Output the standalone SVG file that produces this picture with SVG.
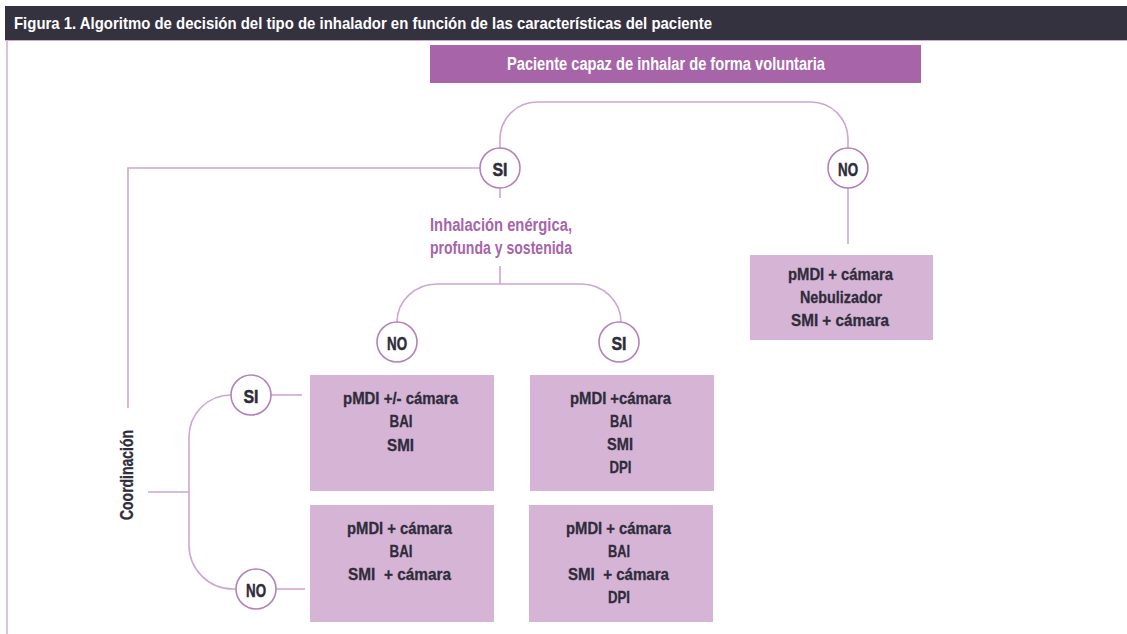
<svg xmlns="http://www.w3.org/2000/svg" width="1127" height="634" viewBox="0 0 1127 634">
<style>
.t{font-family:"Liberation Sans",Arial,sans-serif;font-weight:bold;}
.bx{fill:#d5b4d6;}
.bt{font-size:17px;fill:#2f2c3b;text-anchor:middle;stroke:#2f2c3b;stroke-width:0.3;}
.c{fill:#fff;stroke:#b681ba;stroke-width:1.6;}
.ct{font-size:19px;fill:#2f2c3b;text-anchor:middle;stroke:#2f2c3b;stroke-width:0.5;}
.ln{fill:none;stroke:#cfa5d2;stroke-width:1.6;}
</style>
<rect x="0" y="0" width="1127" height="634" fill="#fff"/>
<g id="frame">
<rect x="5" y="6" width="1122" height="34" fill="#35323f"/>
<line x1="5" y1="40.5" x2="1127" y2="40.5" stroke="#cfa5d2" stroke-width="1.2"/>
<line x1="7" y1="40" x2="7" y2="634" stroke="#d6b2d9" stroke-width="1.6"/>
<text class="t" x="14" y="29" font-size="17" fill="#fff" textLength="698" lengthAdjust="spacingAndGlyphs">Figura 1. Algoritmo de decisión del tipo de inhalador en función de las características del paciente</text>
</g>
<g id="connectors">
<path class="ln" d="M500,148 V139 A37,37 0 0 1 537,102 H811 A37,37 0 0 1 848,139 V148"/>
<path class="ln" d="M480,168 H128 V408"/>
<path class="ln" d="M848,188 V244"/>
<path class="ln" d="M500,188 V198"/>
<path class="ln" d="M500,266 V284"/>
<path class="ln" d="M397,322 A40,38 0 0 1 437,284 H581 A40,38 0 0 1 621,322"/>
<path class="ln" d="M148,492 H189"/>
<path class="ln" d="M231,395 A42,42 0 0 0 189,437 V545 A44,44 0 0 0 233,589 H236"/>
<path class="ln" d="M271,395 H302"/>
<path class="ln" d="M276,589 H305"/>
</g>
<g id="root">
<rect x="430" y="45" width="491" height="38" fill="#a864a8"/>
<text class="t" x="666" y="70" font-size="18" fill="#fff" text-anchor="middle" textLength="318" lengthAdjust="spacingAndGlyphs">Paciente capaz de inhalar de forma voluntaria</text>
</g>
<g id="si-top"><circle class="c" cx="500" cy="168" r="20"/><text class="t ct" x="500" y="176" textLength="15" lengthAdjust="spacingAndGlyphs">SI</text></g>
<g id="no-top"><circle class="c" cx="848" cy="168" r="20"/><text class="t ct" x="848" y="176" textLength="20" lengthAdjust="spacingAndGlyphs">NO</text></g>
<g id="no-box">
<rect class="bx" x="750" y="255" width="183" height="85"/>
<text class="t bt" x="840.5" y="280" textLength="105" lengthAdjust="spacingAndGlyphs">pMDI + cámara</text>
<text class="t bt" x="841" y="303" textLength="82" lengthAdjust="spacingAndGlyphs">Nebulizador</text>
<text class="t bt" x="840" y="326" textLength="98" lengthAdjust="spacingAndGlyphs">SMI + cámara</text>
</g>
<g id="inhalacion">
<text class="t" x="430" y="231" font-size="18" fill="#a864a8" textLength="142" lengthAdjust="spacingAndGlyphs">Inhalación enérgica,</text>
<text class="t" x="430" y="254" font-size="18" fill="#a864a8" textLength="142" lengthAdjust="spacingAndGlyphs">profunda y sostenida</text>
</g>
<g id="no-mid"><circle class="c" cx="397" cy="342" r="20"/><text class="t ct" x="397" y="350" textLength="20" lengthAdjust="spacingAndGlyphs">NO</text></g>
<g id="si-mid"><circle class="c" cx="619" cy="342" r="20"/><text class="t ct" x="619" y="350" textLength="15" lengthAdjust="spacingAndGlyphs">SI</text></g>
<g id="coordinacion">
<text class="t" transform="translate(133,475) rotate(-90)" font-size="18" fill="#2f2c3b" stroke="#2f2c3b" stroke-width="0.3" text-anchor="middle" textLength="90" lengthAdjust="spacingAndGlyphs">Coordinación</text>
</g>
<g id="si-coord"><circle class="c" cx="251" cy="395" r="20"/><text class="t ct" x="251" y="403" textLength="15" lengthAdjust="spacingAndGlyphs">SI</text></g>
<g id="no-coord"><circle class="c" cx="256" cy="589" r="20"/><text class="t ct" x="256" y="597" textLength="20" lengthAdjust="spacingAndGlyphs">NO</text></g>
<g id="box-no-si">
<rect class="bx" x="310" y="375" width="184" height="116"/>
<text class="t bt" x="400.5" y="404" textLength="115" lengthAdjust="spacingAndGlyphs">pMDI +/- cámara</text>
<text class="t bt" x="401" y="427" textLength="23" lengthAdjust="spacingAndGlyphs">BAI</text>
<text class="t bt" x="400.5" y="451" textLength="27" lengthAdjust="spacingAndGlyphs">SMI</text>
</g>
<g id="box-no-no">
<rect class="bx" x="310" y="505" width="184" height="117"/>
<text class="t bt" x="399.5" y="534" textLength="105" lengthAdjust="spacingAndGlyphs">pMDI + cámara</text>
<text class="t bt" x="401" y="557" textLength="23" lengthAdjust="spacingAndGlyphs">BAI</text>
<text class="t bt" x="399.5" y="580" textLength="103" lengthAdjust="spacingAndGlyphs" xml:space="preserve">SMI  + cámara</text>
</g>
<g id="box-si-si">
<rect class="bx" x="530" y="375" width="184" height="116"/>
<text class="t bt" x="620.5" y="404" textLength="101" lengthAdjust="spacingAndGlyphs">pMDI +cámara</text>
<text class="t bt" x="621" y="427" textLength="22" lengthAdjust="spacingAndGlyphs">BAI</text>
<text class="t bt" x="620" y="450" textLength="26" lengthAdjust="spacingAndGlyphs">SMI</text>
<text class="t bt" x="620.5" y="473" textLength="22" lengthAdjust="spacingAndGlyphs">DPI</text>
</g>
<g id="box-si-no">
<rect class="bx" x="529" y="505" width="184" height="117"/>
<text class="t bt" x="618.5" y="534" textLength="105" lengthAdjust="spacingAndGlyphs">pMDI + cámara</text>
<text class="t bt" x="619" y="557" textLength="22" lengthAdjust="spacingAndGlyphs">BAI</text>
<text class="t bt" x="618.5" y="580" textLength="101" lengthAdjust="spacingAndGlyphs" xml:space="preserve">SMI  + cámara</text>
<text class="t bt" x="619" y="603" textLength="22" lengthAdjust="spacingAndGlyphs">DPI</text>
</g>
</svg>
